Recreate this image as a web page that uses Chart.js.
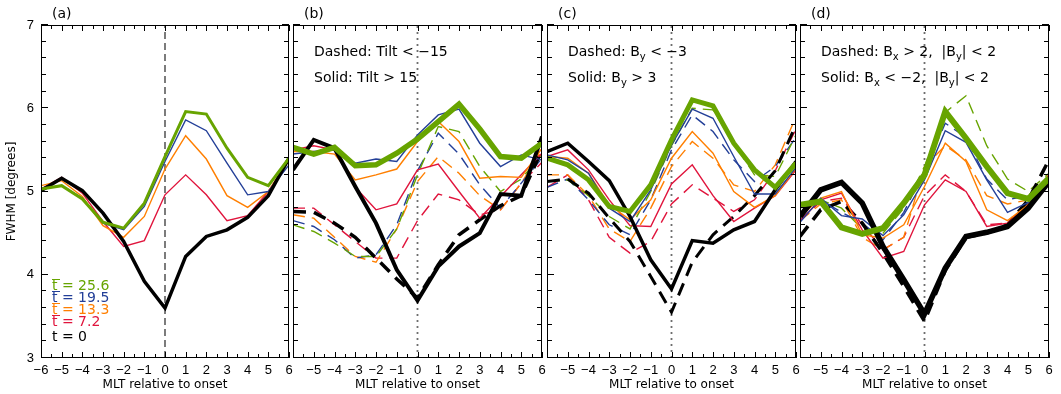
<!DOCTYPE html>
<html>
<head>
<meta charset="utf-8">
<script src="https://cdn.jsdelivr.net/npm/chart.js@4.4.0/dist/chart.umd.min.js"></script>
<style>
  html, body { margin: 0; padding: 0; background: #fff; }
  #wrap { position: relative; width: 1061px; height: 394px; }
  #wrap canvas { position: absolute; left: 0; top: 0; }
</style>
</head>
<body>
<div id="wrap">
  <canvas id="pa" width="1061" height="394"></canvas>
  <canvas id="pb" width="1061" height="394"></canvas>
  <canvas id="pc" width="1061" height="394"></canvas>
  <canvas id="pd" width="1061" height="394"></canvas>
</div>
<script>
const mlt = [-6, -5, -4, -3, -2, -1, 0, 1, 2, 3, 4, 5, 6];
const xLabelsFirst = ["−6", "−5", "−4", "−3", "−2", "−1", "0", "1", "2", "3", "4", "5", "6"];
const xLabelsRest = ["", "−5", "−4", "−3", "−2", "−1", "0", "1", "2", "3", "4", "5", "6"];
const legendLabels = ["t = 25.6", "t = 19.5", "t = 13.3", "t = 7.2", "t = 0"];

// (a) all events
const aT0  = [5.01, 5.16, 5.01, 4.74, 4.40, 3.92, 3.60, 4.22, 4.46, 4.54, 4.69, 4.95, 5.40];
const aT7  = [5.03, 5.17, 4.98, 4.64, 4.34, 4.41, 4.96, 5.20, 4.96, 4.65, 4.71, 5.00, 5.38];
const aT13 = [5.07, 5.13, 4.94, 4.59, 4.45, 4.70, 5.27, 5.67, 5.39, 4.95, 4.81, 5.00, 5.38];
const aT19 = [5.03, 5.07, 4.92, 4.62, 4.54, 4.82, 5.36, 5.86, 5.73, 5.34, 4.96, 5.00, 5.32];
const aT25 = [5.03, 5.07, 4.91, 4.63, 4.56, 4.86, 5.42, 5.96, 5.93, 5.52, 5.17, 5.07, 5.40];

// (b) tilt
const bSolid0  = [5.26, 5.62, 5.52, 5.06, 4.62, 4.06, 3.69, 4.10, 4.34, 4.50, 4.97, 4.95, 5.66];
const bSolid7  = [5.50, 5.55, 5.50, 5.05, 4.78, 4.85, 5.26, 5.33, 5.00, 4.68, 4.94, 5.20, 5.46];
const bSolid13 = [5.48, 5.48, 5.45, 5.14, 5.20, 5.27, 5.60, 5.84, 5.60, 5.16, 5.18, 5.17, 5.52];
const bSolid19 = [5.45, 5.48, 5.50, 5.34, 5.39, 5.36, 5.68, 5.92, 5.99, 5.58, 5.30, 5.44, 5.38];
const bSolid25 = [5.53, 5.45, 5.53, 5.31, 5.32, 5.46, 5.63, 5.84, 6.05, 5.75, 5.42, 5.40, 5.58];
const bDash0  = [4.76, 4.75, 4.62, 4.45, 4.20, 3.95, 3.72, 4.12, 4.48, 4.66, 4.83, 4.95, 5.50];
const bDash7  = [4.80, 4.80, 4.60, 4.40, 4.20, 4.20, 4.65, 4.97, 4.90, 4.72, 4.78, 5.10, 5.35];
const bDash13 = [4.72, 4.68, 4.45, 4.22, 4.15, 4.55, 5.12, 5.42, 5.22, 4.95, 4.78, 5.10, 5.50];
const bDash19 = [4.65, 4.58, 4.42, 4.20, 4.24, 4.60, 5.25, 5.70, 5.45, 5.08, 4.80, 5.10, 5.40];
const bDash25 = [4.60, 4.52, 4.38, 4.22, 4.22, 4.55, 5.20, 5.78, 5.72, 5.30, 5.00, 5.15, 5.45];

// (c) By
const cSolid0  = [5.48, 5.58, 5.36, 5.13, 4.70, 4.18, 3.83, 4.41, 4.38, 4.54, 4.64, 5.02, 5.36];
const cSolid7  = [5.42, 5.50, 5.26, 4.90, 4.59, 4.58, 5.09, 5.32, 4.95, 4.64, 4.80, 4.95, 5.26];
const cSolid13 = [5.42, 5.40, 5.22, 4.84, 4.66, 4.90, 5.40, 5.72, 5.46, 5.00, 4.81, 4.95, 5.28];
const cSolid19 = [5.44, 5.38, 5.22, 4.80, 4.64, 5.02, 5.56, 5.99, 5.88, 5.42, 4.97, 4.97, 5.29];
const cSolid25 = [5.40, 5.32, 5.14, 4.82, 4.76, 5.08, 5.62, 6.10, 6.03, 5.58, 5.26, 5.05, 5.34];
const cDash0  = [5.12, 5.15, 4.98, 4.68, 4.40, 3.98, 3.55, 4.15, 4.48, 4.70, 4.95, 5.25, 5.80];
const cDash7  = [5.05, 5.20, 4.90, 4.45, 4.26, 4.40, 4.85, 5.08, 4.92, 4.76, 4.90, 5.25, 5.75];
const cDash13 = [5.20, 5.20, 4.95, 4.55, 4.40, 4.80, 5.30, 5.60, 5.40, 5.08, 5.00, 5.32, 5.90];
const cDash19 = [5.05, 5.15, 4.90, 4.60, 4.48, 4.90, 5.50, 5.92, 5.72, 5.38, 5.12, 5.30, 5.65];
const cDash25 = [5.12, 5.14, 4.95, 4.70, 4.55, 5.00, 5.55, 6.00, 5.98, 5.58, 5.20, 5.18, 5.68];

// (d) Bx
const dSolid0  = [4.70, 5.02, 5.11, 4.86, 4.34, 3.94, 3.53, 4.08, 4.46, 4.51, 4.58, 4.80, 5.12];
const dSolid7  = [4.65, 4.90, 4.98, 4.54, 4.20, 4.28, 4.84, 5.14, 5.00, 4.58, 4.62, 4.84, 5.20];
const dSolid13 = [4.70, 4.92, 5.00, 4.48, 4.44, 4.60, 5.06, 5.58, 5.36, 4.78, 4.65, 4.84, 5.18];
const dSolid19 = [4.63, 4.92, 4.71, 4.67, 4.47, 4.72, 5.14, 5.73, 5.59, 5.14, 4.75, 4.87, 5.14];
const dSolid25 = [4.84, 4.88, 4.57, 4.49, 4.56, 4.86, 5.20, 5.96, 5.64, 5.30, 4.98, 4.91, 5.16];
const dDash0  = [4.46, 4.78, 4.88, 4.62, 4.26, 3.86, 3.44, 4.05, 4.45, 4.50, 4.60, 4.90, 5.38];
const dDash7  = [4.65, 4.88, 4.92, 4.60, 4.30, 4.45, 4.95, 5.20, 5.00, 4.60, 4.62, 4.85, 5.20];
const dDash13 = [4.65, 4.85, 4.90, 4.45, 4.30, 4.45, 5.30, 5.55, 5.38, 4.95, 4.85, 4.90, 5.20];
const dDash19 = [4.65, 4.90, 4.75, 4.62, 4.42, 4.75, 5.25, 5.82, 5.65, 5.15, 4.90, 4.95, 5.15];
const dDash25 = [4.80, 4.90, 4.80, 4.55, 4.50, 4.80, 5.30, 5.95, 6.15, 5.55, 5.15, 5.00, 5.22];

const GREEN = "#67a400", BLUE = "#233f98", ORANGE = "#ff7f00", RED = "#e0143c", BLACK = "#000000";
const FONT = '"DejaVu Sans", sans-serif';
const TICKFONT = '"Liberation Sans", sans-serif';
const DASH = [12, 7];
const DASH_BLACK = [13, 8];

function line(values, color, width, dash) {
  return {
    data: mlt.map((m, i) => ({ x: m, y: values[i] })),
    borderColor: color,
    borderWidth: width,
    borderDash: dash || [],
    pointRadius: 0,
    tension: 0,
    fill: false
  };
}

function drawRuns(ctx, runs, x, y, size, color) {
  let cx = x;
  ctx.fillStyle = color;
  ctx.textBaseline = "middle";
  ctx.textAlign = "left";
  for (const [t, sub] of runs) {
    const s = sub ? Math.round(size * 0.7) : size;
    ctx.font = s + "px " + FONT;
    ctx.fillText(t, cx, sub ? y + size * 0.38 : y);
    cx += ctx.measureText(t).width;
  }
}

const idlPlugin = {
  id: "idl",
  beforeDatasetsDraw(chart, args, o) {
    const { ctx, chartArea: a, scales: { x } } = chart;
    const px = x.getPixelForValue(0);
    ctx.save();
    ctx.strokeStyle = "#6e6e6e";
    ctx.lineWidth = o.zeroWidth;
    ctx.setLineDash(o.zeroDash);
    ctx.beginPath();
    ctx.moveTo(px, a.bottom);
    ctx.lineTo(px, a.top);
    ctx.stroke();
    ctx.restore();
  },
  afterDraw(chart, args, o) {
    const ctx = chart.ctx;
    const a = chart.chartArea;
    const L = Math.round(a.left), R = Math.round(a.right);
    const T = Math.round(a.top), B = Math.round(a.bottom);
    ctx.save();
    ctx.setLineDash([]);
    ctx.globalAlpha = 1;
    ctx.fillStyle = "#000000";
    // frame
    ctx.fillRect(L, T, R - L, 1);
    ctx.fillRect(L, B - 1, R - L, 1);
    ctx.fillRect(L, T, 1, B - T);
    ctx.fillRect(R - 1, T, 1, B - T);
    // inward ticks
    for (let i = 0; i <= 20; i++) {
      const py = Math.round(B - (B - T) * i / 20);
      const len = i % 5 === 0 ? 7 : 5;
      ctx.fillRect(L, py - 1, len, 1);
      ctx.fillRect(R - len, py - 1, len, 1);
    }
    for (let i = 0; i <= 24; i++) {
      const px = Math.round(L + (R - L) * i / 24);
      const len = i % 2 === 0 ? 6 : 4;
      ctx.fillRect(px, B - len, 1, len);
      ctx.fillRect(px, T, 1, len);
    }

    ctx.font = "14px " + FONT;
    ctx.textBaseline = "middle";
    ctx.textAlign = "left";
    ctx.fillText(o.label, L + 11, 14);

    (o.notes || []).forEach((runs, i) => {
      drawRuns(ctx, runs, L + 21, 52 + i * 26, 14, "#000");
    });

    if (o.legend) {
      const colors = [GREEN, BLUE, ORANGE, RED, BLACK];
      const rows = [286, 298, 310, 322, 337];
      legendLabels.forEach((t, i) => {
        drawRuns(ctx, [[t, 0]], L + 11, rows[i], 14, colors[i]);
        if (i < 4) {
          ctx.fillStyle = colors[i];
          ctx.fillRect(L + 11, rows[i] - 7, 8, 1);
        }
      });
    }
    ctx.restore();
  }
};

function makePanel(id, box, datasets, opts) {
  const first = box.left < 100;
  new Chart(document.getElementById(id), {
    type: "line",
    data: { datasets: datasets },
    options: {
      responsive: false,
      animation: false,
      events: [],
      layout: {
        autoPadding: false,
        padding: { left: first ? 0 : box.left, right: 1061 - box.right, top: 25, bottom: 0 }
      },
      scales: {
        x: {
          type: "linear", min: -6, max: 6,
          afterFit: s => { s.height = 36; },
          grid: { display: false, drawTicks: false },
          border: { display: false },
          ticks: {
            stepSize: 1, padding: 5, color: "#000", maxRotation: 0, autoSkip: false,
            font: { size: 13, family: TICKFONT },
            callback: v => (first ? xLabelsFirst : xLabelsRest)[mlt.indexOf(v)]
          },
          title: {
            display: true, text: "MLT relative to onset", color: "#000",
            font: { size: 12, family: FONT }, padding: { top: 0, bottom: 2 }
          }
        },
        y: {
          display: first, min: 3, max: 7,
          afterFit: s => { s.width = first ? 41 : 0; },
          grid: { display: false, drawTicks: false },
          border: { display: false },
          ticks: { stepSize: 1, padding: 7, color: "#000", font: { size: 13, family: TICKFONT } },
          title: {
            display: true, text: "FWHM [degrees]", color: "#000",
            font: { size: 12, family: FONT }, padding: { top: 5, bottom: 0 }
          }
        }
      },
      plugins: {
        legend: { display: false },
        tooltip: { enabled: false },
        idl: opts
      }
    },
    plugins: [idlPlugin]
  });
}

makePanel("pa", { left: 41, right: 289 }, [
  line(aT25, GREEN, 3),
  line(aT0, BLACK, 3.5),
  line(aT19, BLUE, 1.4),
  line(aT13, ORANGE, 1.4),
  line(aT7, RED, 1.4)
], { label: "(a)", zeroDash: [7, 4], zeroWidth: 1.8, legend: true });

makePanel("pb", { left: 293, right: 542 }, [
  line(bSolid25, GREEN, 5.5),
  line(bSolid0, BLACK, 4),
  line(bSolid19, BLUE, 1.4),
  line(bSolid13, ORANGE, 1.4),
  line(bSolid7, RED, 1.4),
  line(bDash0, BLACK, 3.5, DASH_BLACK),
  line(bDash25, GREEN, 1.4, DASH),
  line(bDash19, BLUE, 1.4, DASH),
  line(bDash13, ORANGE, 1.4, DASH),
  line(bDash7, RED, 1.4, DASH)
], {
  label: "(b)", zeroDash: [2, 4], zeroWidth: 1.8,
  notes: [[["Dashed: Tilt < −15", 0]], [["Solid: Tilt > 15", 0]]]
});

makePanel("pc", { left: 547, right: 796 }, [
  line(cSolid25, GREEN, 5),
  line(cSolid0, BLACK, 3.5),
  line(cSolid19, BLUE, 1.4),
  line(cSolid13, ORANGE, 1.4),
  line(cSolid7, RED, 1.4),
  line(cDash0, BLACK, 3, DASH_BLACK),
  line(cDash25, GREEN, 1.4, DASH),
  line(cDash19, BLUE, 1.4, DASH),
  line(cDash13, ORANGE, 1.4, DASH),
  line(cDash7, RED, 1.4, DASH)
], {
  label: "(c)", zeroDash: [2, 4], zeroWidth: 1.8,
  notes: [[["Dashed: B", 0], ["y", 1], [" < −3", 0]], [["Solid: B", 0], ["y", 1], [" > 3", 0]]]
});

makePanel("pd", { left: 800, right: 1049 }, [
  line(dSolid25, GREEN, 6),
  line(dSolid0, BLACK, 5.5),
  line(dSolid19, BLUE, 1.4),
  line(dSolid13, ORANGE, 1.4),
  line(dSolid7, RED, 1.4),
  line(dDash0, BLACK, 3.5, DASH_BLACK),
  line(dDash25, GREEN, 1.4, DASH),
  line(dDash19, BLUE, 1.4, DASH),
  line(dDash13, ORANGE, 1.4, DASH),
  line(dDash7, RED, 1.4, DASH)
], {
  label: "(d)", zeroDash: [2, 4], zeroWidth: 1.8,
  notes: [
    [["Dashed: B", 0], ["x", 1], [" > 2,  |B", 0], ["y", 1], ["| < 2", 0]],
    [["Solid: B", 0], ["x", 1], [" < −2,  |B", 0], ["y", 1], ["| < 2", 0]]
  ]
});
</script>
</body>
</html>
